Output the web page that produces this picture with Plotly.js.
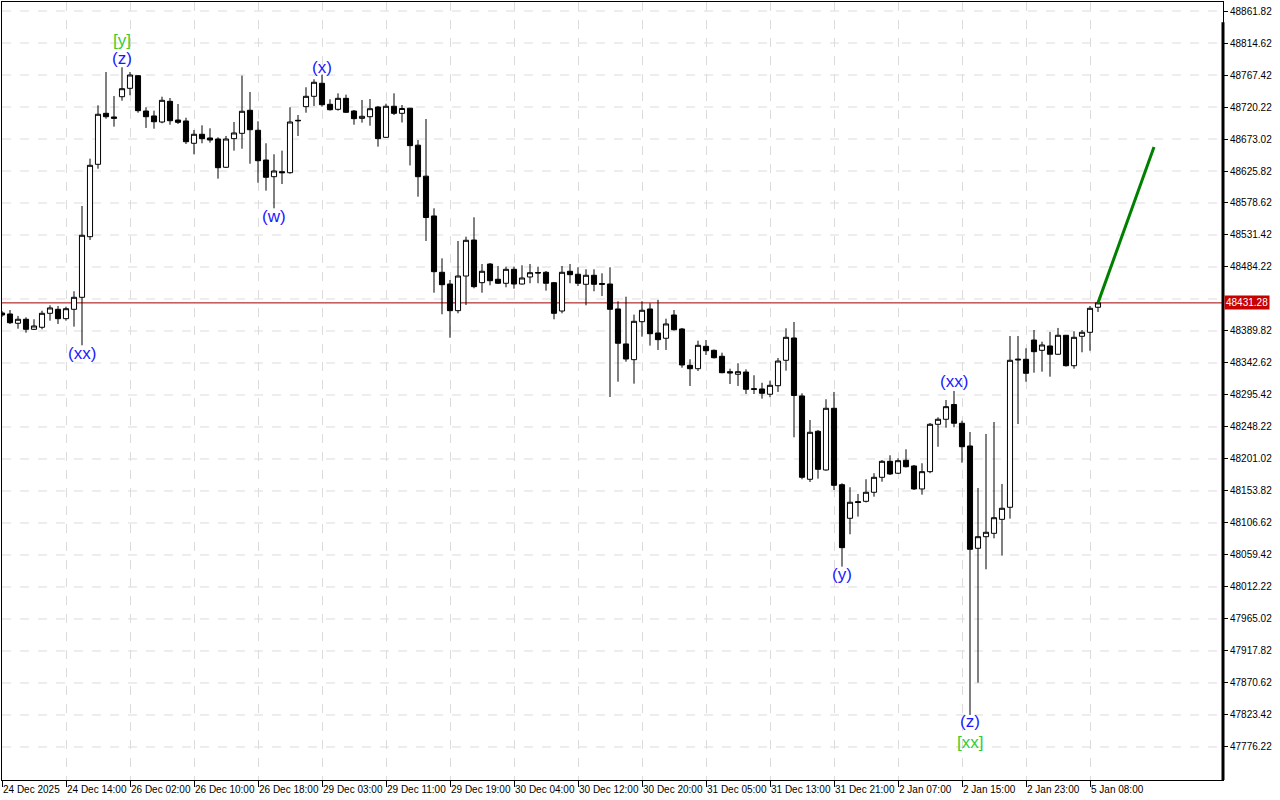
<!DOCTYPE html>
<html><head><meta charset="utf-8">
<script src="https://cdn.plot.ly/plotly-3.0.1.min.js"></script>
<style>html,body{margin:0;padding:0;background:#fff;}#chart{width:1280px;height:800px;}</style>
</head><body><div id="chart"></div>
<script>
// Hourly candles (index 0..137)
const openP = [48416.4,48414.9,48401.2,48407.1,48392.3,48395.3,48415.9,48421.8,48408.0,48421.8,
48439.5,48528.9,48635.7,48710.9,48705.5,48735.4,48747.8,48766.4,48714.3,48707.0,
48698.1,48728.6,48701.0,48699.6,48666.7,48680.0,48674.5,48673.0,48631.3,48673.5,
48681.4,48715.4,48685.9,48642.0,48617.4,48624.8,48623.3,48700.6,48720.7,48736.0,
48755.2,48724.2,48716.8,48733.0,48714.3,48703.5,48705.9,48720.2,48675.5,48721.3,
48710.9,48718.5,48663.9,48618.2,48559.5,48476.4,48459.1,48419.8,48470.9,48524.0,
48461.1,48488.6,48466.1,48460.2,48480.8,48459.1,48469.5,48476.1,48476.4,48461.1,
48419.3,48477.9,48473.5,48458.7,48472.0,48459.9,48459.1,48422.3,48370.7,48347.5,
48403.5,48422.3,48386.9,48379.1,48413.4,48392.8,48339.2,48334.2,48367.2,48361.3,
48352.5,48329.8,48326.0,48329.3,48304.7,48304.3,48296.5,48309.1,48346.6,48379.5,
48294.0,48171.1,48241.9,48184.8,48275.8,48163.1,48113.6,48138.1,48138.6,48151.9,
48174.0,48197.6,48180.0,48199.1,48190.7,48156.8,48182.3,48252.2,48259.6,48281.4,
48253.7,48220.2,48069.3,48086.4,48091.4,48112.0,48129.8,48347.0,48348.1,48376.5,
48361.3,48367.7,48355.5,48383.5,48338.6,48382.0,48387.9,48424.8];
const highP = [48419.3,48420.8,48412.0,48410.0,48407.1,48419.8,48427.7,48426.7,48425.7,48448.4,
48574.2,48644.0,48722.7,48771.8,48736.4,48778.8,48771.8,48767.0,48719.8,48714.8,
48735.4,48733.5,48724.6,48704.4,48686.3,48693.2,48688.8,48675.5,48677.5,48698.1,
48766.4,48742.4,48699.1,48666.7,48650.5,48655.8,48719.8,48708.4,48749.3,48761.1,
48767.9,48731.6,48740.4,48738.4,48715.8,48730.6,48732.0,48721.7,48725.1,48740.4,
48723.2,48718.8,48671.5,48702.5,48570.8,48497.0,48465.0,48522.6,48528.9,48557.5,
48488.6,48490.1,48485.7,48484.7,48484.7,48486.7,48488.6,48484.7,48478.3,48462.0,
48485.7,48488.6,48483.8,48480.8,48480.8,48474.9,48483.8,48433.6,48440.4,48413.9,
48433.6,48430.7,48435.6,48408.0,48420.8,48394.3,48348.1,48375.5,48376.5,48362.5,
48357.8,48334.2,48342.2,48333.3,48324.5,48313.5,48316.5,48350.0,48393.8,48403.1,
48297.9,48258.5,48243.8,48289.1,48299.9,48165.2,48159.3,48149.4,48171.1,48180.0,
48199.5,48206.5,48202.0,48215.3,48192.2,48194.7,48254.1,48262.5,48288.0,48301.3,
48257.5,48240.8,48158.2,48237.9,48255.6,48164.2,48382.4,48382.4,48364.3,48391.3,
48374.0,48388.4,48394.3,48383.9,48389.4,48391.3,48426.7,48432.6];
const lowP = [48410.5,48400.2,48393.2,48387.3,48391.3,48392.3,48405.0,48400.2,48405.0,48396.2,
48368.7,48524.0,48629.2,48702.9,48691.2,48729.5,48737.5,48711.8,48689.3,48688.2,
48696.2,48694.1,48695.2,48665.6,48650.5,48666.7,48667.6,48614.5,48630.3,48655.8,
48658.7,48636.6,48608.6,48596.8,48570.8,48606.6,48621.8,48677.5,48711.8,48721.7,
48720.7,48715.0,48714.8,48711.4,48694.1,48697.1,48692.6,48661.7,48674.5,48708.4,
48697.4,48634.0,48587.9,48522.6,48446.3,48414.5,48379.9,48415.9,48428.2,48452.8,
48446.3,48457.2,48459.1,48454.3,48452.2,48458.4,48460.2,48460.2,48449.3,48407.1,
48415.9,48460.2,48456.2,48427.7,48448.4,48441.5,48292.5,48315.0,48344.5,48312.1,
48381.4,48368.2,48361.8,48361.8,48390.6,48335.7,48308.7,48330.8,48354.4,48349.2,
48327.4,48311.6,48308.7,48296.9,48296.9,48290.0,48292.0,48299.9,48331.3,48233.0,
48171.1,48167.1,48172.0,48183.8,48155.3,48042.2,48090.0,48116.0,48136.9,48145.4,
48167.5,48177.4,48178.9,48188.5,48155.3,48148.4,48180.0,48219.1,48247.2,48247.8,
48195.6,47823.4,47871.1,48038.3,48084.0,48058.4,48113.0,48252.6,48315.0,48328.3,
48329.8,48322.4,48354.4,48337.4,48334.2,48358.4,48360.7,48417.9];
const closeP = [48413.4,48402.0,48407.1,48392.3,48397.2,48415.9,48423.8,48408.0,48422.7,48439.5,
48531.0,48634.2,48709.5,48705.9,48703.5,48747.2,48767.4,48714.8,48705.9,48698.5,
48730.1,48700.0,48697.6,48669.0,48680.0,48673.5,48671.5,48630.7,48673.0,48681.9,
48713.9,48686.7,48641.0,48616.5,48625.8,48623.3,48698.1,48700.0,48736.0,48756.7,
48723.6,48716.2,48733.0,48712.4,48703.0,48706.5,48717.7,48673.5,48721.3,48710.9,
48718.0,48663.2,48617.4,48557.2,48477.3,48458.1,48419.8,48470.9,48523.6,48455.2,
48477.9,48464.0,48460.2,48480.8,48459.1,48468.0,48475.8,48475.4,48460.2,48415.9,
48476.4,48472.9,48460.2,48472.0,48458.7,48458.7,48421.8,48371.7,48348.5,48404.1,
48420.4,48385.8,48377.0,48400.2,48391.7,48339.7,48334.2,48368.7,48360.7,48350.4,
48328.3,48327.9,48329.8,48303.8,48303.8,48297.9,48309.7,48345.5,48380.5,48294.7,
48174.0,48240.4,48185.8,48275.8,48162.2,48070.2,48137.2,48136.9,48151.9,48174.0,
48197.6,48178.9,48198.5,48189.6,48156.8,48182.3,48252.2,48259.6,48278.2,48253.7,
48219.1,48067.8,48086.4,48092.9,48114.4,48128.3,48346.6,48348.1,48327.4,48359.3,
48369.2,48355.5,48383.5,48338.6,48380.5,48387.9,48423.3,48431.28];

const currentPrice = 48431.28;

// forecast arrow
const forecastX = [137, 144];
const forecastY = [48431.28, 48661.2];

// time axis labels
const tickBars = [0,8,16,24,32,40,48,56,64,72,80,88,96,104,112,120,128,136];
const tickLabels = ['24 Dec 2025','24 Dec 14:00','26 Dec 02:00','26 Dec 10:00','26 Dec 18:00',
'29 Dec 03:00','29 Dec 11:00','29 Dec 19:00','30 Dec 04:00','30 Dec 12:00','30 Dec 20:00',
'31 Dec 05:00','31 Dec 13:00','31 Dec 21:00','2 Jan 07:00','2 Jan 15:00','2 Jan 23:00','5 Jan 08:00'];

// price axis ticks (48437.02 is hidden behind the current-price tag)
const priceTicks = [47776.22,47823.42,47870.62,47917.82,47965.02,48012.22,48059.42,48106.62,
48153.82,48201.02,48248.22,48295.42,48342.62,48389.82,48484.22,48531.42,48578.62,
48625.82,48673.02,48720.22,48767.42,48814.62,48861.82];
const priceTickText = ['47776.22','47823.42','47870.62','47917.82','47965.02','48012.22','48059.42','48106.62',
'48153.82','48201.02','48248.22','48295.42','48342.62','48389.82','48484.22','48531.42','48578.62',
'48625.82','48673.02','48720.22','48767.42','48814.62','48861.82'];
const gridPrices = [47776.22,47823.42,47870.62,47917.82,47965.02,48012.22,48059.42,48106.62,
48153.82,48201.02,48248.22,48295.42,48342.62,48389.82,48437.02,48484.22,48531.42,48578.62,
48625.82,48673.02,48720.22,48767.42,48814.62,48861.82];

// wave labels
const waveText = ['[y]','(z)','(xx)','(w)','(x)','(y)','(xx)','(z)','[xx]'];
const waveBar = [15,15,10,34,40,105,119,121,121];
const wavePrice = [48819.0,48792.5,48355.9,48558.0,48779.2,48029.9,48314.6,47813.1,47782.1];
const waveColor = ['#33cc33','#1a1aff','#1a1aff','#1a1aff','#1a1aff','#1a1aff','#1a1aff','#1a1aff','#33cc33'];

const barIndex = openP.map((_, i) => i);

const traces = [
  {
    type: 'candlestick',
    x: barIndex, open: openP, high: highP, low: lowP, close: closeP,
    increasing: {line: {color: '#000000', width: 1}, fillcolor: '#ffffff'},
    decreasing: {line: {color: '#000000', width: 1}, fillcolor: '#000000'},
    whiskerwidth: 0,
    hoverinfo: 'skip'
  },
  {
    type: 'scatter', mode: 'lines',
    x: forecastX, y: forecastY,
    line: {color: '#008000', width: 3},
    hoverinfo: 'skip'
  }
];

const annotations = waveText.map((t, i) => ({
  x: waveBar[i], y: wavePrice[i], xref: 'x', yref: 'y',
  text: t, showarrow: false,
  font: {family: 'Liberation Sans, Arial, sans-serif', size: 17, color: waveColor[i]},
  xanchor: 'center', yanchor: 'middle'
}));
annotations.push({
  x: 1, xref: 'paper', y: currentPrice, yref: 'y',
  text: '48431.28', showarrow: false, xanchor: 'left', yanchor: 'middle', xshift: 1,
  bgcolor: '#c80000', borderpad: 1,
  font: {family: 'Liberation Sans, Arial, sans-serif', size: 10, color: '#ffffff'}
});

const shapes = gridPrices.map(p => ({
  type: 'line', xref: 'paper', x0: 0, x1: 1, yref: 'y', y0: p, y1: p,
  line: {color: '#dcdcdc', width: 1, dash: 'dash'}, layer: 'below'
}));
shapes.push(
  {type: 'line', xref: 'paper', x0: 0, x1: 1, yref: 'y', y0: currentPrice, y1: currentPrice,
   line: {color: '#a00000', width: 1}, layer: 'below'},
  {type: 'line', xref: 'paper', x0: 1, x1: 1, yref: 'paper', y0: 0, y1: 0.974,
   line: {color: '#000', width: 3}, layer: 'above'}
);

const layout = {
  width: 1280, height: 800,
  margin: {l: 2, r: 57, t: 2, b: 20, pad: 0},
  paper_bgcolor: '#ffffff', plot_bgcolor: '#ffffff',
  showlegend: false,
  boxgap: 0.2, boxgroupgap: 0.2,
  xaxis: {
    type: 'linear', range: [0, 152.625], rangeslider: {visible: false},
    tickmode: 'array', tickvals: tickBars, ticktext: tickLabels, tickangle: 0,
    ticks: 'outside', ticklen: 6, tickcolor: '#000', tickwidth: 1,
    ticklabelposition: 'outside right',
    tickfont: {family: 'Liberation Sans, Arial, sans-serif', size: 10, color: '#000'},
    showgrid: true, gridcolor: '#dcdcdc', griddash: 'dash', gridwidth: 1,
    showline: true, linecolor: '#000', linewidth: 1, mirror: true,
    zeroline: false, fixedrange: true
  },
  yaxis: {
    side: 'right', range: [47727.5, 48875.1],
    tickmode: 'array', tickvals: priceTicks, ticktext: priceTickText,
    ticks: 'outside', ticklen: 4, tickcolor: '#000', tickwidth: 1,
    tickfont: {family: 'Liberation Sans, Arial, sans-serif', size: 10, color: '#000'},
    showgrid: false,
    showline: true, linecolor: '#000', linewidth: 1, mirror: true,
    zeroline: false, fixedrange: true
  },
  shapes: shapes,
  annotations: annotations
};

Plotly.newPlot('chart', traces, layout, {displayModeBar: false, staticPlot: true});
</script>
</body></html>
